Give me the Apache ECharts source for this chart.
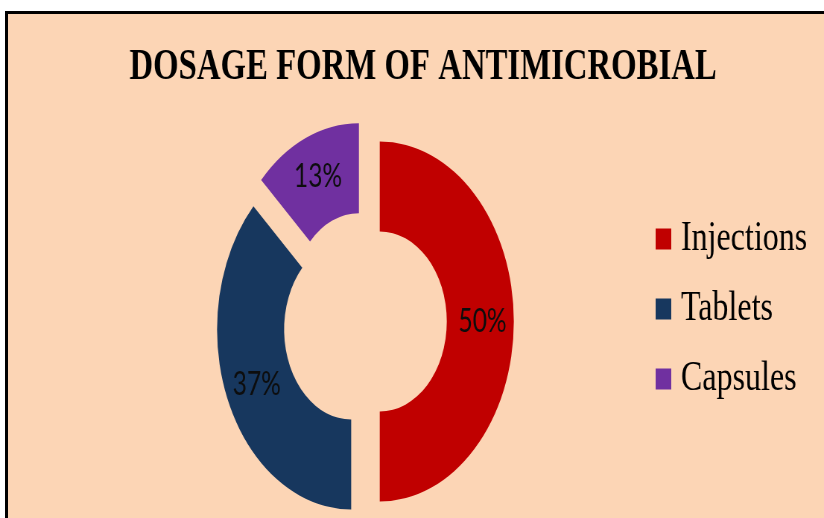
<!DOCTYPE html>
<html>
<head>
<meta charset="utf-8">
<script src="https://cdn.jsdelivr.net/npm/echarts@6/dist/echarts.min.js"></script>
<style>
  html, body { margin: 0; padding: 0; width: 824px; height: 518px; overflow: hidden; background: #ffffff; }
  #frame { position: absolute; left: 5px; top: 11px; width: 840px; height: 530px; border: 3px solid #000; background: #FCD5B5; box-sizing: border-box; }
  #chart { position: absolute; left: 0; top: 0; width: 1136px; height: 518px; transform: scaleX(0.745); transform-origin: 0 0; }
</style>
</head>
<body>
<div id="frame"></div>
<div id="chart"></div>
<script>
const titleText = 'DOSAGE FORM OF ANTIMICROBIAL';
const categories = ['Injections', 'Tablets', 'Capsules'];
const values = [50, 37, 13];
const colors = ['#C00000', '#17375E', '#7030A0'];

const chart = echarts.init(document.getElementById('chart'), null, { renderer: 'canvas' });
chart.setOption({
  animation: false,
  backgroundColor: 'transparent',
  title: {
    text: titleText,
    left: 'center',
    top: 46,
    padding: 0,
    textStyle: { fontFamily: 'Liberation Serif', fontWeight: 'bold', fontSize: 44, color: '#000' }
  },
  legend: {
    orient: 'vertical',
    left: 880,
    top: 214,
    padding: 0,
    itemWidth: 21,
    itemHeight: 21,
    itemGap: 20,
    icon: 'rect',
    selectedMode: false,
    data: categories,
    textStyle: { fontFamily: 'Liberation Serif', fontSize: 43, color: '#000', lineHeight: 50, padding: [0, 0, 0, 8] }
  },
  series: [{
    type: 'pie',
    center: [489.7, 321.5],
    radius: [90, 180],
    startAngle: 90,
    clockwise: true,
    selectedMode: 'multiple',
    selectedOffset: 20,
    silent: true,
    emphasis: { disabled: true },
    label: {
      show: true,
      position: 'inside',
      formatter: '{c}%',
      fontFamily: 'Lato',
      fontSize: 33,
      color: '#0d0d0d'
    },
    labelLine: { show: false },
    data: categories.map((name, i) => ({
      name: name,
      value: values[i],
      selected: true,
      itemStyle: { color: colors[i] }
    }))
  }]
});
</script>
</body>
</html>
